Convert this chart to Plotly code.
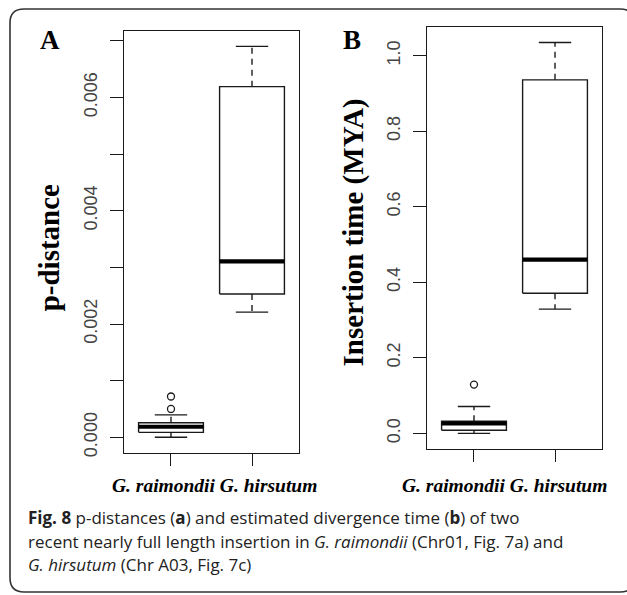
import plotly.graph_objects as go

# ---------------- data ----------------
categories = ["G. raimondii", "G. hirsutum"]

# Panel A: p-distance box statistics
pd_lower = [0.0, 0.00221]
pd_q1 = [0.000087, 0.00253]
pd_median = [0.000186, 0.003105]
pd_q3 = [0.000256, 0.00619]
pd_upper = [0.000395, 0.0069]
pd_outliers = [[0.0005, 0.00072], []]
pd_tickvals = [0.000, 0.001, 0.002, 0.003, 0.004, 0.005, 0.006, 0.007]
pd_ticktext = ["0.000", "", "0.002", "", "0.004", "", "0.006", ""]

# Panel B: insertion time (MYA) box statistics
t_lower = [0.0, 0.329]
t_q1 = [0.008, 0.371]
t_median = [0.026, 0.46]
t_q3 = [0.032, 0.936]
t_upper = [0.071, 1.035]
t_outliers = [[0.129], []]
t_tickvals = [0.0, 0.2, 0.4, 0.6, 0.8, 1.0]
t_ticktext = ["0.0", "0.2", "0.4", "0.6", "0.8", "1.0"]

caption_lines = [
    "<b>Fig. 8</b> p-distances (<b>a</b>) and estimated divergence time (<b>b</b>) of two",
    "recent nearly full length insertion in <i>G. raimondii</i> (Chr01, Fig. 7a) and",
    "<i>G. hirsutum</i> (Chr A03, Fig. 7c)",
]

# ---------------- styling ----------------
W, H = 627, 595
LINE = "#1a1a1a"
BOX_HALF = 0.4
CAP_HALF = 0.2
SERIF = "Liberation Serif, Times New Roman, serif"
SANS = "Liberation Sans, Arial, sans-serif"


def px_x(p):
    return p / W


def px_y(p):
    return 1 - p / H


fig = go.Figure()


def add_boxes(xa, ya, lower, q1, med, q3, upper, outliers):
    for i in range(len(categories)):
        c = i + 1
        fig.add_trace(go.Scatter(
            x=[c - BOX_HALF, c + BOX_HALF, c + BOX_HALF, c - BOX_HALF, c - BOX_HALF],
            y=[q1[i], q1[i], q3[i], q3[i], q1[i]],
            mode="lines", line=dict(color=LINE, width=1.4),
            xaxis=xa, yaxis=ya, hoverinfo="skip", showlegend=False))
        fig.add_trace(go.Scatter(
            x=[c - BOX_HALF, c + BOX_HALF], y=[med[i], med[i]],
            mode="lines", line=dict(color="#000000", width=4.2),
            xaxis=xa, yaxis=ya, hoverinfo="skip", showlegend=False))
        fig.add_trace(go.Scatter(
            x=[c, c, None, c, c], y=[q3[i], upper[i], None, q1[i], lower[i]],
            mode="lines", line=dict(color=LINE, width=1.4, dash="6px,5px"),
            xaxis=xa, yaxis=ya, hoverinfo="skip", showlegend=False))
        fig.add_trace(go.Scatter(
            x=[c - CAP_HALF, c + CAP_HALF, None, c - CAP_HALF, c + CAP_HALF],
            y=[upper[i], upper[i], None, lower[i], lower[i]],
            mode="lines", line=dict(color=LINE, width=1.4),
            xaxis=xa, yaxis=ya, hoverinfo="skip", showlegend=False))
        if outliers[i]:
            fig.add_trace(go.Scatter(
                x=[c] * len(outliers[i]), y=outliers[i], mode="markers",
                marker=dict(symbol="circle-open", size=7, color=LINE,
                            line=dict(width=1.3, color=LINE)),
                xaxis=xa, yaxis=ya, hoverinfo="skip", showlegend=False))


add_boxes("x", "y", pd_lower, pd_q1, pd_median, pd_q3, pd_upper, pd_outliers)
add_boxes("x2", "y2", t_lower, t_q1, t_median, t_q3, t_upper, t_outliers)


def r_range(*series):
    vals = [v for s in series for v in s]
    lo, hi = min(vals), max(vals)
    pad = 0.04 * (hi - lo)
    return [lo - pad, hi + pad]


pd_range = r_range(pd_lower, pd_upper)
t_range = r_range(t_lower, t_upper)
x_range = [0.5 - 0.08, len(categories) + 0.5 + 0.08]

xcommon = dict(range=x_range, showgrid=False, zeroline=False, showline=True,
               mirror=True, linecolor=LINE, linewidth=1.4, ticks="outside",
               ticklen=12, tickwidth=1.4, tickcolor=LINE,
               tickvals=[1, 2], showticklabels=False, fixedrange=True)
ycommon = dict(showgrid=False, zeroline=False, showline=True, mirror=True,
               linecolor=LINE, linewidth=1.4, ticks="outside", ticklen=13,
               tickwidth=1.4, tickcolor=LINE, tickangle=-90,
               tickfont=dict(family=SANS, size=18, color="#444444"),
               ticklabelstandoff=6, fixedrange=True)

fig.update_layout(
    width=W, height=H, margin=dict(l=0, r=0, t=0, b=0),
    paper_bgcolor="white", plot_bgcolor="white",
    xaxis=dict(domain=[px_x(124), px_x(299)], anchor="y", **xcommon),
    yaxis=dict(domain=[px_y(456), px_y(31)], anchor="x", range=pd_range,
               tickvals=pd_tickvals, ticktext=pd_ticktext, **ycommon),
    xaxis2=dict(domain=[px_x(427), px_x(602)], anchor="y2", **xcommon),
    yaxis2=dict(domain=[px_y(452), px_y(27)], anchor="x2", range=t_range,
                tickvals=t_tickvals, ticktext=t_ticktext, **ycommon),
)


def note(text, x, y, size, family, angle=0, xanchor="center", color="#000"):
    return dict(text=text, x=px_x(x), y=px_y(y), xref="paper", yref="paper",
                xanchor=xanchor, yanchor="middle", showarrow=False,
                textangle=angle, font=dict(family=family, size=size, color=color))


ann = [
    note("<b>A</b>", 50, 40, 27, SERIF),
    note("<b>B</b>", 352, 40, 27, SERIF),
    note("<b>p-distance</b>", 49, 250, 29, SERIF, angle=-90),
    note("<b>Insertion time (MYA)</b>", 353, 234, 29, SERIF, angle=-90),
]
xl = "<b><i>" + " ".join(categories) + "</i></b>"
ann.append(note(xl, 215, 489, 19.5, SERIF))
ann.append(note(xl, 504, 489, 19.5, SERIF))
for line, yc in zip(caption_lines, [521, 545, 568]):
    ann.append(note(line, 26, yc, 17, "Open Sans, sans-serif", xanchor="left",
                    color="#222"))
fig.update_layout(annotations=ann)

# rounded outer frame (right and bottom edges run just past the picture)
L, T, R, B_, rad = 10, 9, 634, 596, 14
path = (f"M {px_x(L)},{px_y(B_ - rad)} L {px_x(L)},{px_y(T + rad)} "
        f"Q {px_x(L)},{px_y(T)} {px_x(L + rad)},{px_y(T)} "
        f"L {px_x(R - rad)},{px_y(T)} Q {px_x(R)},{px_y(T)} {px_x(R)},{px_y(T + rad)} "
        f"L {px_x(R)},{px_y(B_ - rad)} Q {px_x(R)},{px_y(B_)} {px_x(R - rad)},{px_y(B_)} "
        f"L {px_x(L + rad)},{px_y(B_)} Q {px_x(L)},{px_y(B_)} {px_x(L)},{px_y(B_ - rad)} Z")
fig.add_shape(type="path", path=path, xref="paper", yref="paper",
              line=dict(color="#333", width=1.6), layer="below")

fig.write_html("out.html")
